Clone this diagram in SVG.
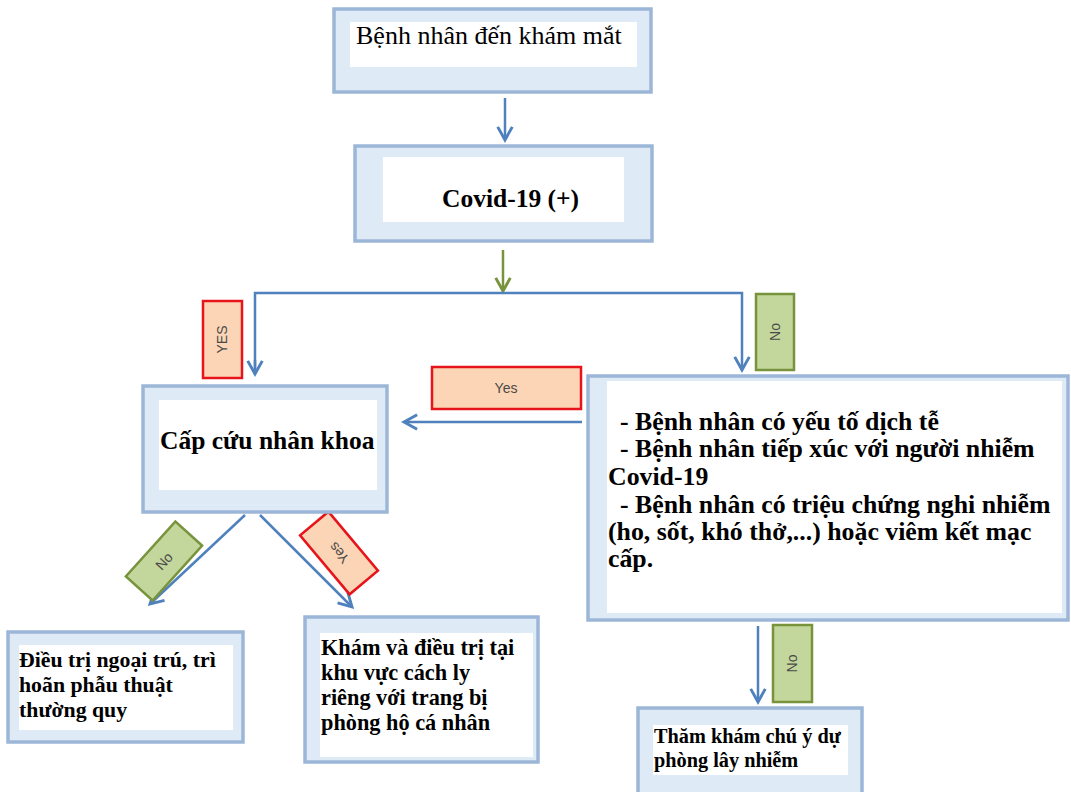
<svg xmlns="http://www.w3.org/2000/svg" width="1071" height="792" viewBox="0 0 1071 792">
<style>
.outer{fill:#DEEAF5;stroke:#9CB6D8;stroke-width:3.5}
.inner{fill:#FFFFFF}
.t{font-family:"Liberation Serif","Times New Roman",serif;fill:#000}
.b{font-weight:bold}
.conn{fill:none;stroke:#4F81BD;stroke-width:2.5}
.connG{fill:none;stroke:#77933C;stroke-width:2.5}
.lblY{fill:#FBD5B5;stroke:#E8141B;stroke-width:2.5}
.lblN{fill:#C3D69B;stroke:#77933C;stroke-width:2.5}
.lt{font-family:"Liberation Sans",Arial,sans-serif;font-size:14px;fill:#4A4A4A}
</style>
<defs>
<marker id="ab" viewBox="0 0 12 12" refX="10" refY="6" markerWidth="7" markerHeight="7" markerUnits="strokeWidth" orient="auto">
<path d="M1,1 L10,6 L1,11" fill="none" stroke="#4F81BD" stroke-width="2"/>
</marker>
<marker id="ag" viewBox="0 0 12 12" refX="10" refY="6" markerWidth="7" markerHeight="7" markerUnits="strokeWidth" orient="auto">
<path d="M1,1 L10,6 L1,11" fill="none" stroke="#77933C" stroke-width="2"/>
</marker>
</defs>

<g id="connectors">
<line class="conn" x1="505" y1="98" x2="505" y2="140" marker-end="url(#ab)"/>
<line class="connG" x1="503" y1="250" x2="503" y2="291" marker-end="url(#ag)"/>
<polyline class="conn" points="255,374 255,293 742,293 742,370" marker-end="url(#ab)"/>
<line class="conn" x1="255" y1="360" x2="255" y2="374" marker-end="url(#ab)"/>
<line class="conn" x1="582" y1="422" x2="404" y2="422" marker-end="url(#ab)"/>
<line class="conn" x1="245" y1="515" x2="150" y2="604" marker-end="url(#ab)"/>
<line class="conn" x1="260" y1="515" x2="352" y2="607" marker-end="url(#ab)"/>
<line class="conn" x1="758" y1="626" x2="758" y2="702" marker-end="url(#ab)"/>
</g>

<g id="labels">
<g id="lbl-yes1"><rect class="lblY" x="203" y="301" width="39" height="77"/><text class="lt" transform="translate(227,339.5) rotate(-90)" text-anchor="middle">YES</text></g>
<g id="lbl-no1"><rect class="lblN" x="756" y="294" width="38" height="76"/><text class="lt" transform="translate(780,332) rotate(-90)" text-anchor="middle">No</text></g>
<g id="lbl-yes2"><rect class="lblY" x="432" y="367" width="149" height="42"/><text class="lt" x="506" y="393" text-anchor="middle">Yes</text></g>
<g id="lbl-no2"><rect class="lblN" x="-37" y="-18" width="74" height="36" transform="translate(164,561) rotate(-48)"/><text class="lt" transform="translate(164,561) rotate(-48) translate(0,5)" text-anchor="middle">No</text></g>
<g id="lbl-yes3"><rect class="lblY" x="-38.5" y="-18.5" width="77" height="37" transform="translate(339,553) rotate(230)"/><text class="lt" transform="translate(339,553) rotate(230) translate(0,5)" text-anchor="middle">Yes</text></g>
<g id="lbl-no3"><rect class="lblN" x="773" y="625" width="39" height="77"/><text class="lt" transform="translate(797,663.5) rotate(-90)" text-anchor="middle">No</text></g>
</g>

<g id="n1">
<rect class="outer" x="334" y="9" width="317" height="83"/>
<rect class="inner" x="350" y="22" width="287" height="45"/>
<text class="t" x="356" y="44" font-size="26">Bệnh nhân đến khám mắt</text>
</g>

<g id="n2">
<rect class="outer" x="355" y="146" width="297" height="95"/>
<rect class="inner" x="383" y="157" width="241" height="65"/>
<text class="t b" x="442" y="207" font-size="25.5">Covid-19 (+)</text>
</g>

<g id="n3">
<rect class="outer" x="143" y="386" width="244" height="126"/>
<rect class="inner" x="159" y="400" width="218" height="90"/>
<text class="t b" x="160" y="449" font-size="25.5">Cấp cứu nhân khoa</text>
</g>

<g id="n4">
<rect class="outer" x="588" y="376" width="480" height="244"/>
<rect class="inner" x="607" y="381" width="455" height="232"/>
<text class="t b" font-size="25.8">
<tspan x="620" y="430">- Bệnh nhân có yếu tố dịch tễ</tspan>
<tspan x="620" y="457">- Bệnh nhân tiếp xúc với người nhiễm</tspan>
<tspan x="608" y="485">Covid-19</tspan>
<tspan x="620" y="513">- Bệnh nhân có triệu chứng nghi nhiễm</tspan>
<tspan x="608" y="540">(ho, sốt, khó thở,...) hoặc viêm kết mạc</tspan>
<tspan x="608" y="567">cấp.</tspan>
</text>
</g>

<g id="n5">
<rect class="outer" x="8" y="632" width="235" height="110"/>
<rect class="inner" x="19" y="645" width="214" height="85"/>
<text class="t b" font-size="21.8">
<tspan x="19" y="667">Điều trị ngoại trú, trì</tspan>
<tspan x="19" y="692">hoãn phẫu thuật</tspan>
<tspan x="19" y="717">thường quy</tspan>
</text>
</g>

<g id="n6">
<rect class="outer" x="305" y="617" width="233" height="145"/>
<rect class="inner" x="320" y="633" width="213" height="124"/>
<text class="t b" font-size="22.3">
<tspan x="321" y="655">Khám và điều trị tại</tspan>
<tspan x="321" y="680">khu vực cách ly</tspan>
<tspan x="321" y="705">riêng với trang bị</tspan>
<tspan x="321" y="730">phòng hộ cá nhân</tspan>
</text>
</g>

<g id="n7">
<rect class="outer" x="638" y="708" width="224" height="90"/>
<rect class="inner" x="653" y="725" width="195" height="50"/>
<text class="t b" font-size="20.3">
<tspan x="654" y="743">Thăm khám chú ý dự</tspan>
<tspan x="654" y="767">phòng lây nhiễm</tspan>
</text>
</g>
</svg>
